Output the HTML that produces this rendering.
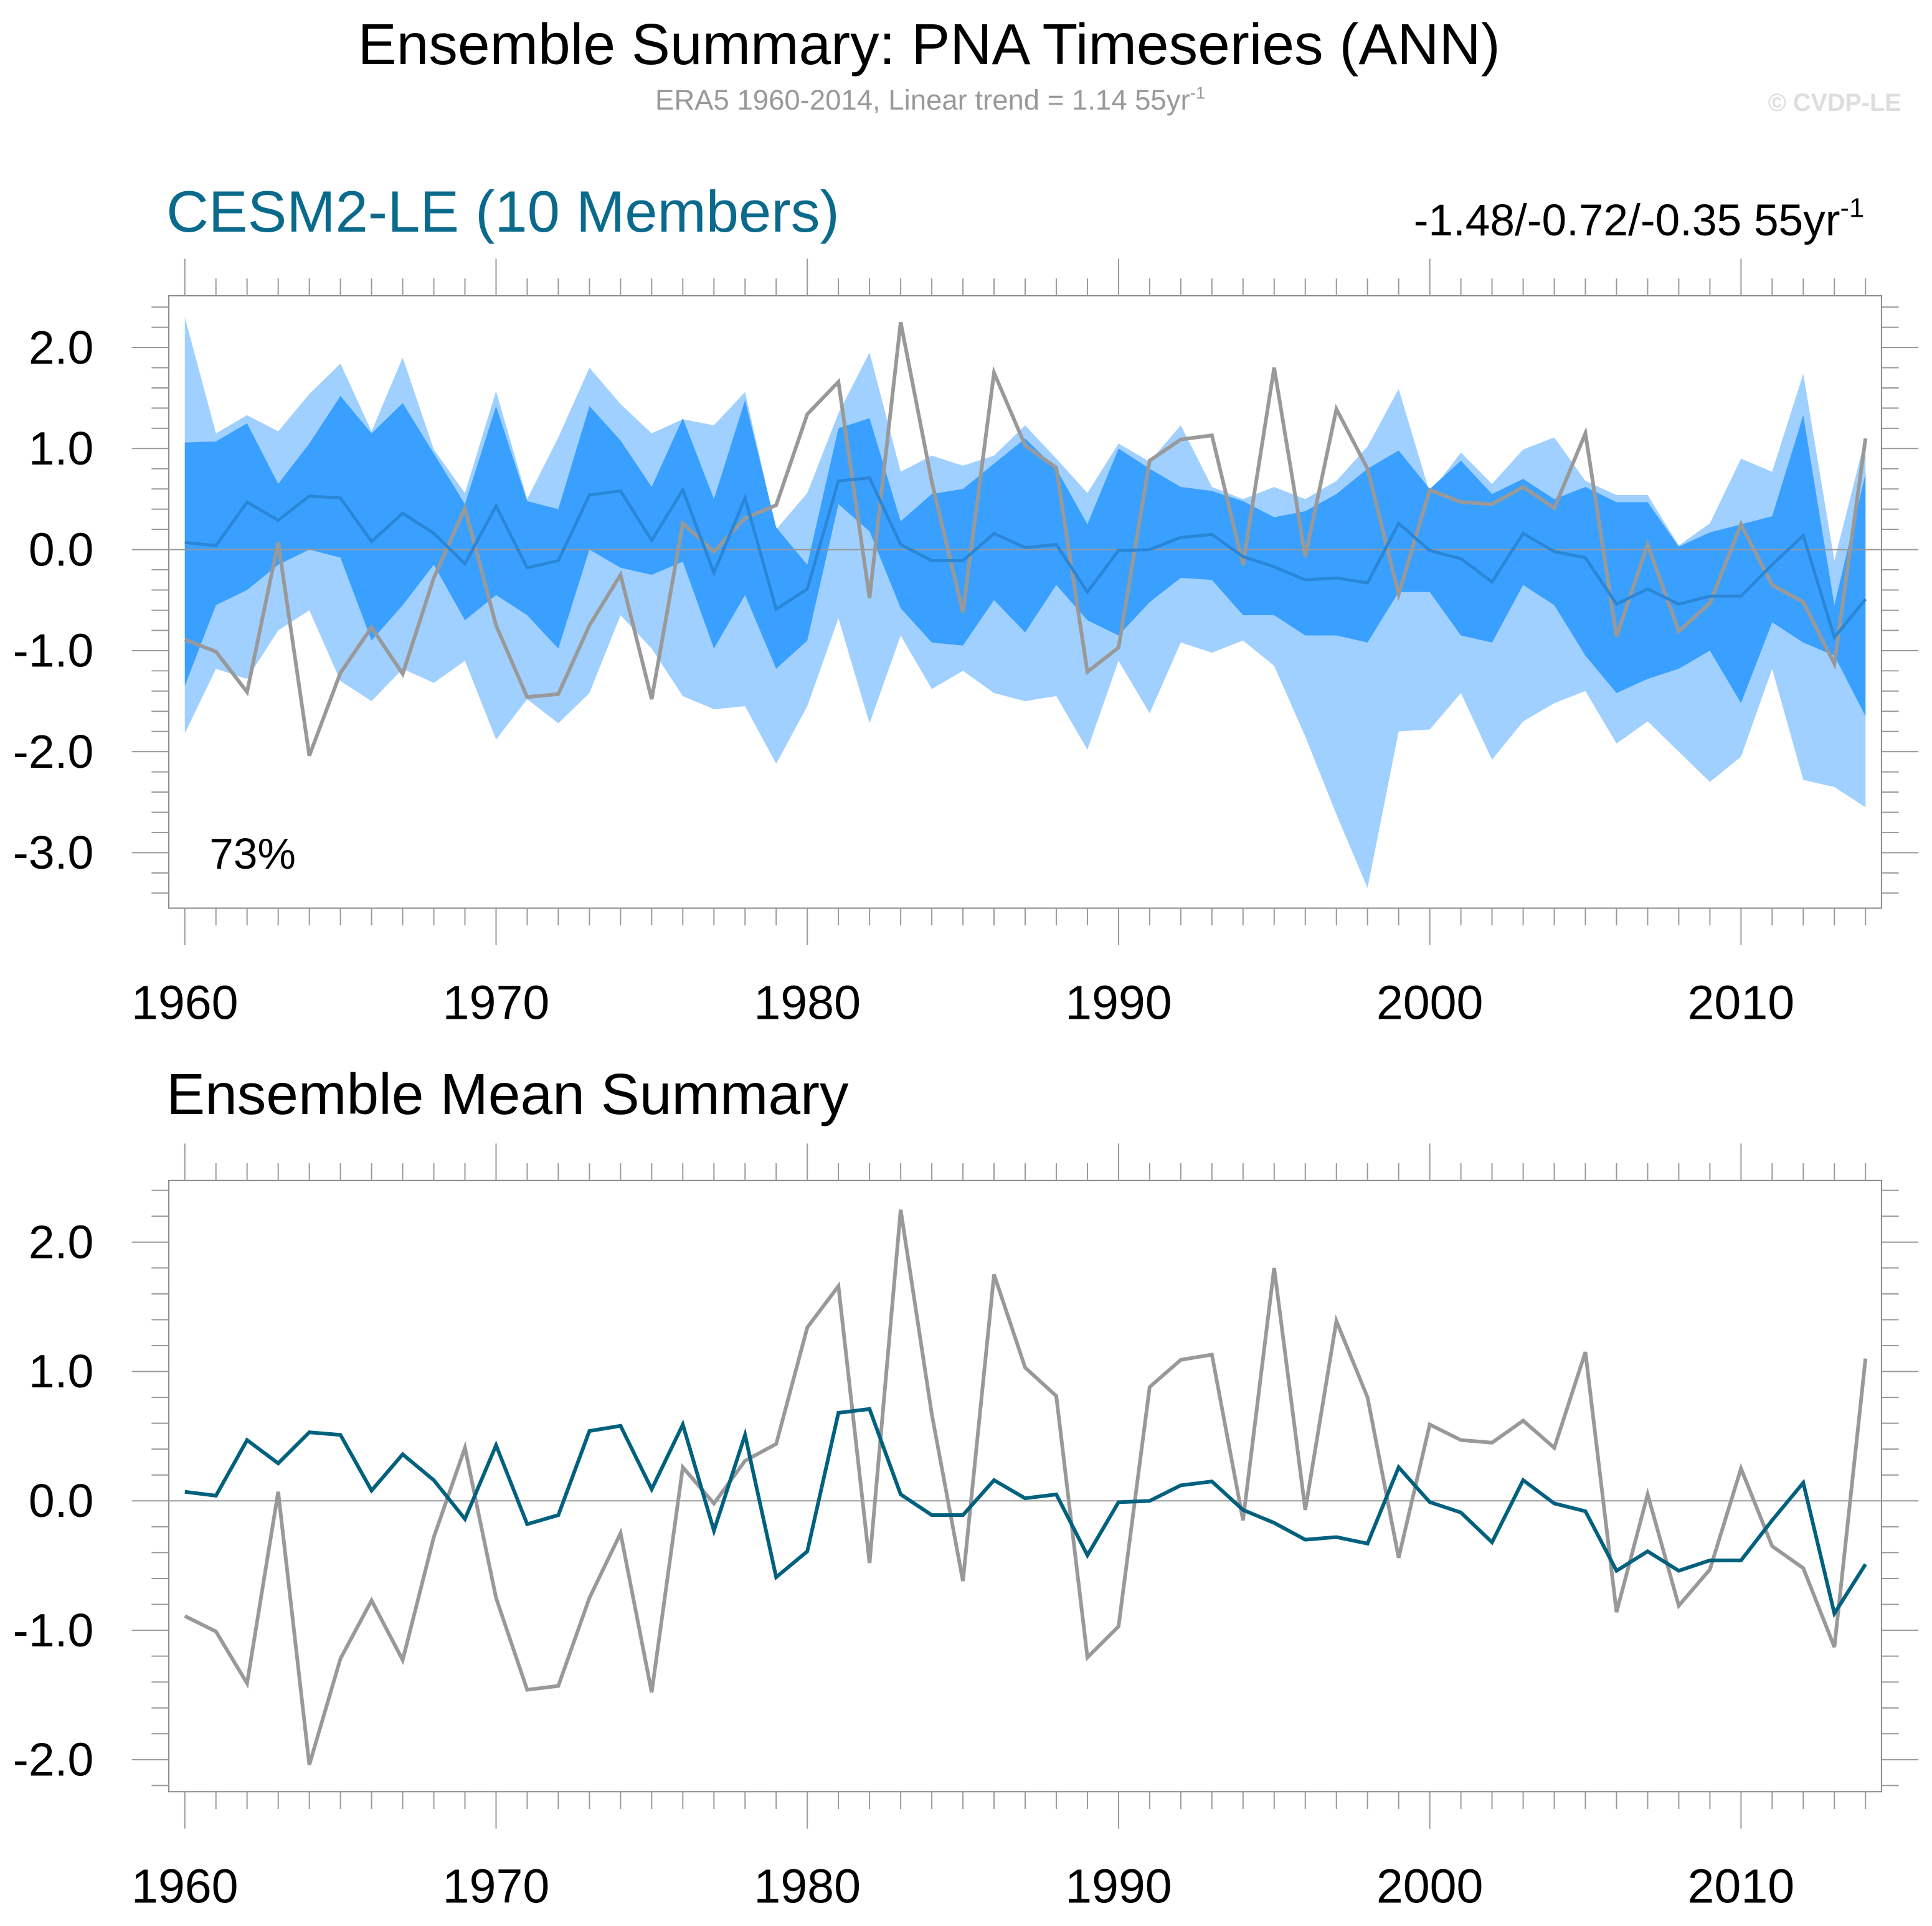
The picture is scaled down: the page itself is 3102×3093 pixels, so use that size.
<!DOCTYPE html>
<html><head><meta charset="utf-8"><style>html,body{margin:0;padding:0;background:#fff}svg{display:block}</style></head>
<body>
<svg id="chart" xmlns="http://www.w3.org/2000/svg" width="3102" height="3093" viewBox="0 0 1568 1563" preserveAspectRatio="none" font-family="Liberation Sans, sans-serif">
<rect width="1568" height="1563" fill="#fff"/>
<text x="754" y="52" font-size="47" text-anchor="middle">Ensemble Summary: PNA Timeseries (ANN)</text>
<text x="755" y="89" font-size="23" fill="#999" text-anchor="middle">ERA5 1960-2014, Linear trend = 1.14 55yr<tspan font-size="14" dy="-9">-1</tspan></text>
<text x="1543" y="90" font-size="20" fill="#ddd" font-weight="bold" text-anchor="end">© CVDP-LE</text>
<text x="135" y="188" font-size="47.5" fill="#0a6a8c">CESM2-LE (10 Members)</text>
<text x="1513" y="191" font-size="36" text-anchor="end">-1.48/-0.72/-0.35 55yr<tspan font-size="22" dy="-15">-1</tspan></text>
<text x="135" y="904" font-size="47">Ensemble Mean Summary</text>
<g id="g"></g>
</svg>
<script>
const years = Array.from({length:55},(_,i)=>1960+i);
const era5 = [-0.89,-1.01,-1.41,0.07,-2.04,-1.22,-0.77,-1.23,-0.28,0.41,-0.75,-1.46,-1.43,-0.75,-0.25,-1.48,0.26,-0.02,0.31,0.44,1.34,1.66,-0.48,2.25,0.67,-0.62,1.75,1.03,0.81,-1.21,-0.97,0.88,1.09,1.13,-0.15,1.80,-0.07,1.39,0.80,-0.44,0.59,0.47,0.45,0.62,0.41,1.15,-0.86,0.05,-0.81,-0.53,0.25,-0.35,-0.52,-1.13,1.10];
const ensMean = [0.07,0.04,0.47,0.29,0.53,0.51,0.08,0.36,0.16,-0.14,0.43,-0.18,-0.11,0.54,0.58,0.09,0.59,-0.23,0.51,-0.59,-0.39,0.68,0.71,0.05,-0.11,-0.11,0.16,0.02,0.05,-0.42,-0.01,0.00,0.12,0.15,-0.07,-0.17,-0.30,-0.28,-0.33,0.26,-0.01,-0.09,-0.32,0.16,-0.02,-0.08,-0.54,-0.39,-0.54,-0.46,-0.46,-0.15,0.14,-0.87,-0.49];
const lightMax = [2.3,1.15,1.33,1.17,1.54,1.84,1.17,1.9,0.99,0.56,1.57,0.5,1.11,1.8,1.44,1.15,1.29,1.23,1.56,0.2,0.56,1.35,1.95,0.77,0.93,0.83,0.93,1.23,0.9,0.56,1.05,0.87,1.23,0.62,0.5,0.62,0.5,0.68,1.02,1.59,0.56,0.96,0.65,0.99,1.11,0.68,0.54,0.54,0.04,0.26,0.9,0.77,1.74,-0.11,1.11];
const darkMax = [1.06,1.07,1.25,0.65,1.05,1.52,1.15,1.45,0.95,0.45,1.42,0.48,0.4,1.42,1.08,0.62,1.3,0.5,1.48,0.22,-0.15,1.2,1.3,0.28,0.55,0.6,0.85,1.1,0.8,0.25,1.0,0.8,0.62,0.58,0.48,0.32,0.38,0.55,0.8,0.98,0.6,0.88,0.55,0.7,0.5,0.62,0.47,0.47,0.03,0.17,0.25,0.33,1.33,-0.55,0.75];
const darkMin = [-1.35,-0.55,-0.4,-0.15,0.0,-0.08,-0.9,-0.55,-0.15,-0.7,-0.45,-0.65,-0.98,0.0,-0.18,-0.25,-0.12,-0.98,-0.45,-1.18,-0.9,0.45,0.18,-0.58,-0.92,-0.95,-0.5,-0.82,-0.35,-0.7,-0.85,-0.52,-0.28,-0.3,-0.65,-0.65,-0.85,-0.85,-0.92,-0.42,-0.42,-0.85,-0.92,-0.35,-0.55,-1.05,-1.42,-1.28,-1.18,-1.0,-1.52,-0.72,-0.92,-1.05,-1.65];
const lightMin = [-1.82,-1.18,-1.28,-0.8,-0.6,-1.3,-1.5,-1.18,-1.32,-1.1,-1.88,-1.48,-1.72,-1.42,-0.65,-0.98,-1.45,-1.58,-1.55,-2.12,-1.55,-0.68,-1.72,-0.85,-1.38,-1.2,-1.42,-1.5,-1.45,-1.98,-1.1,-1.62,-0.92,-1.02,-0.9,-1.15,-1.85,-2.62,-3.35,-1.8,-1.78,-1.42,-2.08,-1.7,-1.52,-1.4,-1.92,-1.7,-2.0,-2.3,-2.05,-1.18,-2.28,-2.35,-2.55];
const xTickLabels = [1960,1970,1980,1990,2000,2010];
const topYTicks = [2,1,0,-1,-2,-3];
const botYTicks = [2,1,0,-1,-2];

const NS="http://www.w3.org/2000/svg", G=document.getElementById('g');
function mk(tag,attrs,name,parent){const e=document.createElementNS(NS,tag);for(const k in attrs)e.setAttribute(k,attrs[k]);


(parent||G).appendChild(e);return e;}
const X=y=>150+(y-1960)*(1263/50);
function panel(p){
  const Y=v=>p.y0-v*p.k;
  const vMin=(p.y0-p.bottom)/p.k, vMax=(p.y0-p.top)/p.k;
  const g=mk('g',{},p.name);
  if(p.bands){
    const poly=(hi,lo)=>years.map((y,i)=>X(y)+','+Y(hi[i])).concat(years.map((y,i)=>X(y)+','+Y(lo[i])).reverse()).join(' ');
    mk('polygon',{points:poly(lightMax,lightMin),fill:'#a0d0ff'},'outer-spread-band',g);
    mk('polygon',{points:poly(darkMax,darkMin),fill:'#3aa0ff'},'inner-spread-band',g);
  }
  mk('line',{x1:137,x2:1527,y1:Y(0),y2:Y(0),stroke:'#999','stroke-width':1},'zero-line',g);
  mk('polyline',{points:years.map((y,i)=>X(y)+','+Y(era5[i])).join(' '),fill:'none',stroke:'#999','stroke-width':3},'era5-line',g);
  mk('polyline',{points:years.map((y,i)=>X(y)+','+Y(ensMean[i])).join(' '),fill:'none',stroke:p.meanColor,'stroke-width':p.meanW},'ensemble-mean-line',g);
  mk('rect',{x:137,y:p.top,width:1390,height:p.bottom-p.top,fill:'none',stroke:'#888','stroke-width':1},'plot-frame',g);
  years.forEach(y=>{const maj=(y%10===0);const L=maj?30:14;
    mk('line',{x1:X(y),x2:X(y),y1:p.top-L,y2:p.top,stroke:'#999','stroke-width':1},'x-tick-top',g);
    mk('line',{x1:X(y),x2:X(y),y1:p.bottom,y2:p.bottom+L,stroke:'#999','stroke-width':1},'x-tick-bottom',g);});
  xTickLabels.forEach(y=>{const t=mk('text',{x:X(y),y:p.bottom+90,'font-size':39,'text-anchor':'middle'},'x-tick-label',g);t.textContent=y;});
  for(let v=Math.ceil(vMin*5)/5;v<=vMax+1e-9;v+=0.2){const vr=Math.round(v*5)/5;const maj=Math.abs(vr-Math.round(vr))<1e-6;const L=maj?30:14;
    mk('line',{x1:137-L,x2:137,y1:Y(vr),y2:Y(vr),stroke:'#999','stroke-width':1},'y-tick-left',g);
    mk('line',{x1:1527,x2:1527+L,y1:Y(vr),y2:Y(vr),stroke:'#999','stroke-width':1},'y-tick-right',g);}
  p.yt.forEach(v=>{const t=mk('text',{x:76,y:Y(v)+13,'font-size':38,'text-anchor':'end'},'y-tick-label',g);t.textContent=v.toFixed(1);});
}
panel({name:'ensemble-summary-panel',top:240,bottom:737,y0:446,k:82,bands:true,meanColor:'#2a86d6',meanW:2.5,yt:topYTicks});
panel({name:'ensemble-mean-panel',top:958,bottom:1454,y0:1218,k:105,bands:false,meanColor:'#00617f',meanW:3,yt:botYTicks});
const pc=mk('text',{x:170,y:705,'font-size':35},'percent-label');pc.textContent='73%';
</script>
</body></html>
